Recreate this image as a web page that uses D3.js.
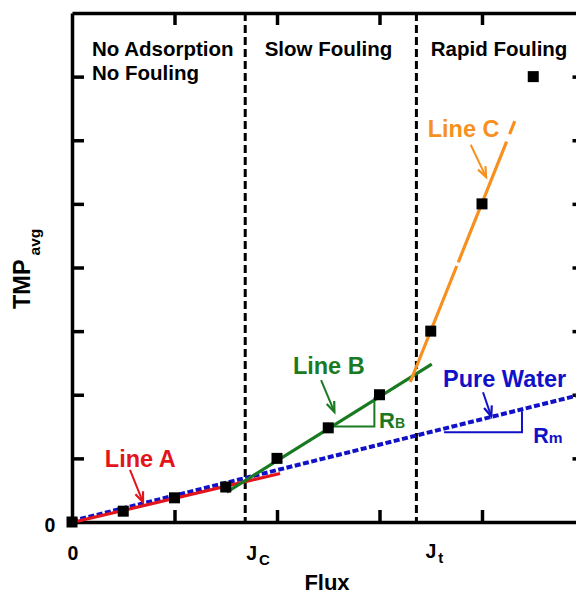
<!DOCTYPE html>
<html>
<head>
<meta charset="utf-8">
<script src="https://cdn.jsdelivr.net/npm/d3@7"></script>
<style>
body { margin: 0; background: #fff; }
svg { display: block; font-family: "Liberation Sans", Arial, sans-serif; font-weight: bold; }
</style>
</head>
<body>
<svg id="chart" width="576" height="594"></svg>
<script>
// measured points
const flux = [0, 0.5, 1, 1.5, 2, 2.5, 3, 3.5, 4, 4.5];
const tmp = [0, 0.17, 0.38, 0.55, 1.0, 1.48, 2.0, 3.0, 5.0, 7.0];

// fitted lines [x, y]
const lineA = [[0, 0], [2.03, 0.77]];
const lineB = [[1.51, 0.47], [3.51, 2.48]];
const lineC = [[3.3, 2.2], [4.32, 6.3]];
const pureWater = [[0, 0], [5, 2.0]];

const fluxJc = 1.69;
const fluxJt = 3.36;

const triB = [[2.5, 1.5], [2.95, 1.5], [2.95, 1.96]];
const triM = [[3.63, 1.41], [4.39, 1.41], [4.39, 1.74]];

const xTicks = [1, 2, 3, 4];
const yTicks = [1, 2, 3, 4, 5, 6, 7];

let svg = d3.select("#chart");

let x = d3.scaleLinear().domain([0, 5]).range([72, 584.5]);
let y = d3.scaleLinear().domain([0, 8]).range([522, 13]);

let line = d3.line().x(d => x(d[0])).y(d => y(d[1]));

const red = "#e3141b", green = "#1a7a22", orange = "#f7901e", blue = "#1111c8";

// frame + ticks
function styleAxis(g) {
  g.selectAll("path, line").attr("stroke", "#000").attr("stroke-width", 3.5);
  g.selectAll("text").remove();
}
svg.append("g").attr("transform", `translate(0,${y(0)})`)
  .call(d3.axisBottom(x).tickValues(xTicks).tickSize(-12).tickSizeOuter(0)).call(styleAxis);
svg.append("g").attr("transform", `translate(0,${y(8)})`)
  .call(d3.axisTop(x).tickValues(xTicks).tickSize(-12).tickSizeOuter(0)).call(styleAxis);
svg.append("g").attr("transform", `translate(${x(0)},0)`)
  .call(d3.axisLeft(y).tickValues(yTicks).tickSize(-12).tickSizeOuter(0)).call(styleAxis);
svg.append("g").attr("transform", `translate(${x(5)},0)`)
  .call(d3.axisRight(y).tickValues(yTicks).tickSize(-12).tickSizeOuter(0)).call(styleAxis);

// vertical region separators
[fluxJc, fluxJt].forEach(f => {
  svg.append("line").attr("x1", x(f)).attr("x2", x(f)).attr("y1", y(8)).attr("y2", y(0))
    .attr("stroke", "#000").attr("stroke-width", 3).attr("stroke-dasharray", "8,4");
});

// lines
svg.append("path").datum(pureWater).attr("d", line).attr("fill", "none")
  .attr("stroke", blue).attr("stroke-width", 4).attr("stroke-dasharray", "6,2.5")
  .attr("transform", "translate(0,-1)");
svg.append("path").datum(lineA).attr("d", line).attr("fill", "none")
  .attr("stroke", red).attr("stroke-width", 3.2).attr("transform", "translate(0,0.5)");
svg.append("path").datum(lineB).attr("d", line).attr("fill", "none")
  .attr("stroke", green).attr("stroke-width", 3.2);
svg.append("path").datum(lineC).attr("d", line).attr("fill", "none")
  .attr("stroke", orange).attr("stroke-width", 3.2).attr("stroke-dasharray", "125,4,130,8,40");

// slope triangles
svg.append("path").datum(triB).attr("d", line).attr("fill", "none")
  .attr("stroke", green).attr("stroke-width", 2);
svg.append("path").datum(triM).attr("d", line).attr("fill", "none")
  .attr("stroke", blue).attr("stroke-width", 2);

// data squares
const sq = 11;
svg.selectAll(".pt").data(flux).enter().append("rect")
  .attr("x", (d, i) => x(d) - sq / 2).attr("y", (d, i) => y(tmp[i]) - sq / 2)
  .attr("width", sq).attr("height", sq).attr("fill", "#000");

// arrows
function arrow(from, to, color) {
  let x1 = x(from[0]), y1 = y(from[1]), x2 = x(to[0]), y2 = y(to[1]);
  let a = Math.atan2(y2 - y1, x2 - x1);
  let L = 11, w = 0.38;
  svg.append("line").attr("x1", x1).attr("y1", y1).attr("x2", x2).attr("y2", y2)
    .attr("stroke", color).attr("stroke-width", 2);
  svg.append("path")
    .attr("d", `M${x2 - L * Math.cos(a - w)},${y2 - L * Math.sin(a - w)}L${x2},${y2}L${x2 - L * Math.cos(a + w)},${y2 - L * Math.sin(a + w)}`)
    .attr("fill", "none").attr("stroke", color).attr("stroke-width", 2.2);
}
arrow([0.566, 0.82], [0.693, 0.31], red);
arrow([2.43, 2.23], [2.56, 1.73], green);
arrow([3.89, 5.93], [4.04, 5.42], orange);
arrow([4.01, 2.04], [4.09, 1.66], blue);

// text
function label(t, dx, dy, size, color, anchor) {
  return svg.append("text").attr("x", x(dx)).attr("y", y(dy)).text(t)
    .attr("font-size", size).attr("fill", color || "#000").attr("text-anchor", anchor || "start");
}
label("No Adsorption", 0.195, 7.33, 20.5);
label("No Fouling", 0.195, 6.95, 20.5);
label("Slow Fouling", 1.88, 7.33, 20.5);
label("Rapid Fouling", 3.5, 7.33, 20.5);

label("Line A", 0.32, 0.87, 23.5, red);
label("Line B", 2.155, 2.33, 23.5, green);
label("Line C", 3.47, 6.05, 23.5, orange);
label("Pure Water", 3.62, 2.12, 23.5, blue);

let rb = label("R", 2.995, 1.48, 22, green);
rb.append("tspan").attr("font-size", 14).text("B");
let rm = label("R", 4.50, 1.24, 21.5, blue);
rm.append("tspan").attr("font-size", 15.5).text("m");

// tick labels
svg.append("text").attr("x", 50).attr("y", y(0) + 10).attr("text-anchor", "middle")
  .attr("font-size", 19.5).text("0");
svg.append("text").attr("x", x(0) + 1).attr("y", 560).attr("text-anchor", "middle")
  .attr("font-size", 19.5).text("0");
let jc = svg.append("text").attr("x", x(fluxJc) + 1).attr("y", 560).attr("font-size", 19.5).text("J");
jc.append("tspan").attr("font-size", 15).attr("dx", 2).attr("dy", 5).text("C");
let jt = svg.append("text").attr("x", x(fluxJt) + 9).attr("y", 558).attr("font-size", 19.5).text("J");
jt.append("tspan").attr("font-size", 15).attr("dx", 2).attr("dy", 5).text("t");

// axis titles
svg.append("text").attr("x", 327).attr("y", 590).attr("text-anchor", "middle")
  .attr("font-size", 22).text("Flux");
let yt = svg.append("text").attr("transform", "translate(30,309) rotate(-90)")
  .attr("font-size", 23.5).text("TMP");
yt.append("tspan").attr("font-size", 15.5).attr("dx", 4).attr("dy", 10).text("avg");
</script>
</body>
</html>
